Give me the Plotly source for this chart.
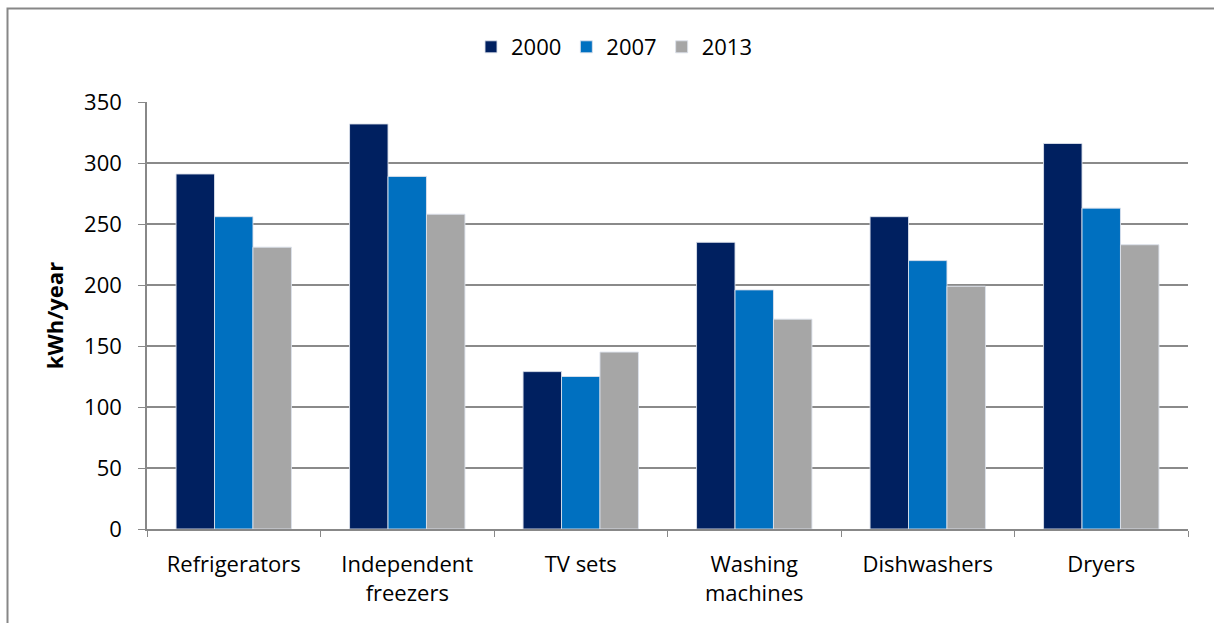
import plotly.graph_objects as go

categories = ["Refrigerators", "Independent<br>freezers", "TV sets", "Washing<br>machines", "Dishwashers", "Dryers"]
series_names = ["2000", "2007", "2013"]
values_2000 = [291, 332, 129, 235, 256, 316]
values_2007 = [256, 289, 125, 196, 220, 263]
values_2013 = [231, 258, 145, 172, 199, 233]
colors = ["#002060", "#0070C0", "#A6A6A6"]
y_ticks = [0, 50, 100, 150, 200, 250, 300, 350]

FONT = "Open Sans"
FS = 22

fig = go.Figure()
for name, vals, col in zip(series_names, [values_2000, values_2007, values_2013], colors):
    fig.add_trace(go.Bar(
        name=name, x=categories, y=vals,
        marker=dict(color=col, line=dict(color="rgba(220,225,235,0.9)", width=1)),
    ))

W, H = 1214, 623
L, R, T, B = 147, 26, 102, 94
pw, ph = W - L - R, H - T - B

def px_x(p):
    return (p - L) / pw

def px_y(p):
    return (H - B - p) / ph

fig.update_layout(
    width=W, height=H,
    margin=dict(l=L, r=R, t=T, b=B),
    paper_bgcolor="white", plot_bgcolor="white",
    barmode="group", bargap=0.335, bargroupgap=0,
    font=dict(family=FONT, size=FS, color="#000000"),
    legend=dict(orientation="h", x=px_x(614), xanchor="center", y=px_y(47), yanchor="middle",
                font=dict(size=FS), itemwidth=30, traceorder="normal", bgcolor="rgba(0,0,0,0)"),
    xaxis=dict(showgrid=False, showline=True, linecolor="#888888", linewidth=1.5,
               ticks="outside", ticklen=6, tickcolor="#888888", tickson="boundaries",
               tickfont=dict(size=FS), ticklabelstandoff=15),
    yaxis=dict(range=[0, 350], tickvals=y_ticks, showgrid=True, gridcolor="#8a8a8a", gridwidth=1.5,
               showline=True, linecolor="#888888", linewidth=1.5, ticks="outside", ticklen=7,
               tickcolor="#888888", tickfont=dict(size=FS), zeroline=False, ticklabelstandoff=12,
               title=dict(text="<b>kWh/year</b>", font=dict(size=FS), standoff=14)),
    shapes=[dict(type="rect", xref="paper", yref="paper",
                 x0=px_x(7.5), x1=px_x(1230), y0=px_y(640), y1=px_y(8.5),
                 line=dict(color="#878787", width=2), layer="below")],
)

fig.write_html("out.html")
